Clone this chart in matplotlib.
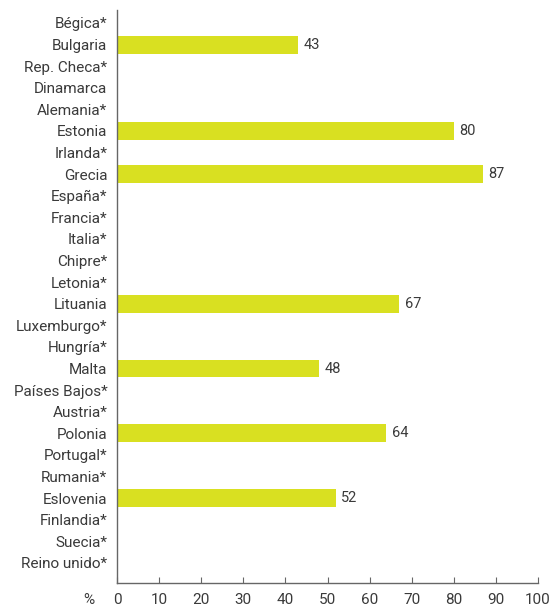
import matplotlib
matplotlib.use("Agg")
import matplotlib.pyplot as plt

categories = ["Bégica*", "Bulgaria", "Rep. Checa*", "Dinamarca", "Alemania*", "Estonia",
              "Irlanda*", "Grecia", "España*", "Francia*", "Italia*", "Chipre*", "Letonia*",
              "Lituania", "Luxemburgo*", "Hungría*", "Malta", "Países Bajos*", "Austria*",
              "Polonia", "Portugal*", "Rumania*", "Eslovenia", "Finlandia*", "Suecia*",
              "Reino unido*"]
values = [None, 43, None, None, None, 80, None, 87, None, None, None, None, None,
          67, None, None, 48, None, None, 64, None, None, 52, None, None, None]
xticks = [0, 10, 20, 30, 40, 50, 60, 70, 80, 90, 100]

plt.rcParams['font.family'] = ['Roboto', 'DejaVu Sans']
fig = plt.figure(figsize=(5.5, 6.07), dpi=100)
ax = fig.add_axes([117/550, 1-583/607, (538-117)/550, (583-10)/607])

color = "#d9e021"
txt = "#3a3a3a"
fs = 11
for i, v in enumerate(values):
    if v is not None:
        ax.barh(i, v, height=0.83, color=color)
        ax.text(v + 1.3, i, str(v), va="center", ha="left", fontsize=fs - 0.5, color=txt)

ax.set_yticks(range(len(categories)))
ax.set_yticklabels(categories)
ax.set_ylim(len(categories) - 1 + 0.93, -0.6)
ax.set_xlim(0, 100)
ax.set_xticks(xticks)
ax.set_xticklabels([str(t) for t in xticks])

for s in ["top", "right"]:
    ax.spines[s].set_visible(False)
for s in ["left", "bottom"]:
    ax.spines[s].set_color("#666666")
    ax.spines[s].set_linewidth(1.0)

ax.tick_params(axis="y", length=0, pad=7, labelsize=fs, labelcolor=txt)
ax.tick_params(axis="x", direction="in", length=4, color="#666666", pad=7, labelsize=fs, labelcolor=txt)

ax.text(-6.8, -0.03, "%", transform=ax.get_xaxis_transform(), ha="center", va="center",
        fontsize=fs, color=txt)

fig.savefig("out.png", dpi=100)
